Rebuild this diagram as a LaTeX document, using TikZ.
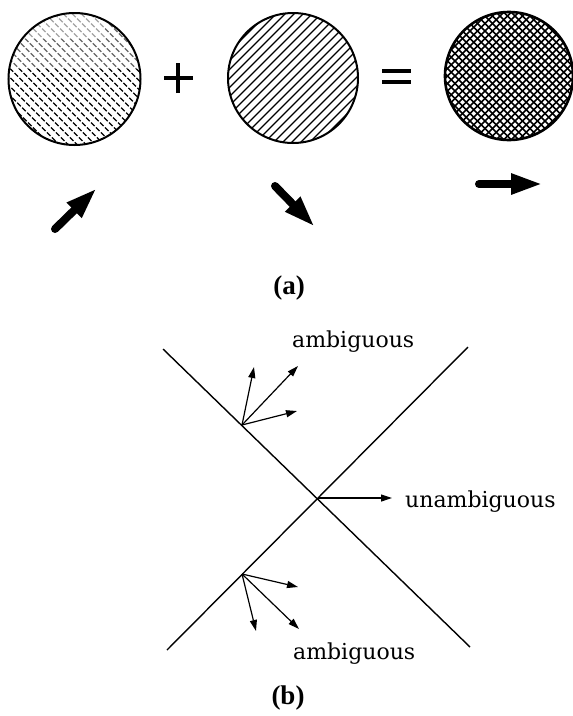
\documentclass[tikz,border=0pt]{standalone}
\usepackage{fontspec}
\newfontfamily\lblfont{DejaVu Serif}
\newfontfamily\capfont{Liberation Serif}
\usetikzlibrary{arrows.meta}
\tikzset{
  disc/.style={circle, draw=black, line width=2pt, minimum size=#1, inner sep=0pt},
  blockarrow/.style={line width=8pt, line cap=round, -{Triangle[length=32pt,width=19pt]}},
  thinarrow/.style={line width=1.2pt, -{Triangle[length=11pt,width=7pt]}},
  xline/.style={line width=1.4pt},
  sym/.style={line width=4pt},
  lbl/.style={font=\lblfont\fontsize{22}{26}\selectfont, inner sep=0pt},
  figcap/.style={font=\capfont\fontsize{27}{31}\selectfont\bfseries, inner sep=0pt},
}
\begin{document}
\begin{tikzpicture}[x=1pt,y=-1pt]
\useasboundingbox (0,0) rectangle (573,716);

% ---------- (a) ----------
\node[disc=132pt, path picture={
  \begin{scope}[shift={(path picture bounding box.center)}]
    \foreach \s in {-189,-180,...,189}
      \draw[line width=1.3pt, dash pattern=on 5pt off 2pt] (\s-100,-100) -- (\s+100,100);
    \fill[white, opacity=0.4] (-80,-80) rectangle (80,-10);
    \fill[white, opacity=0.4] (-80,-80) rectangle (30,-40);
  \end{scope}}] (c1) at (74.5,79) {};

\node[disc=130pt, path picture={
  \begin{scope}[shift={(path picture bounding box.center)}]
    \foreach \s in {-189,-180,...,189}
      \draw[line width=1.4pt] (\s-100,100) -- (\s+100,-100);
  \end{scope}}] (c2) at (293,78) {};

\node[disc=128pt, line width=2.6pt, path picture={
  \begin{scope}[shift={(path picture bounding box.center)}]
    \foreach \s in {-189,-181.5,...,189} {
      \draw[line width=1.6pt] (\s-100,100) -- (\s+100,-100);
      \draw[line width=1.6pt] (\s-100,-100) -- (\s+100,100);
    }
  \end{scope}}] (c3) at (509,76) {};

% plus and equals
\coordinate (plus) at (178,78);
\draw[sym] ([xshift=-14pt]plus) -- ([xshift=15pt]plus);
\draw[sym] ([yshift=-15pt]plus) -- ([yshift=15pt]plus);
\coordinate (eq) at (397,76);
\draw[sym] ([xshift=-15pt,yshift=-5.5pt]eq) -- ([xshift=14pt,yshift=-5.5pt]eq);
\draw[sym] ([xshift=-15pt,yshift=5.5pt]eq) -- ([xshift=14pt,yshift=5.5pt]eq);

% block arrows
\coordinate (a1t) at (55,229);
\coordinate (a1h) at (97,188);
\coordinate (a2t) at (275,186);
\coordinate (a2h) at (315,227);
\coordinate (a3t) at (479,184);
\coordinate (a3h) at (543,184);
\draw[blockarrow] (a1t) -- (a1h);
\draw[blockarrow] (a2t) -- (a2h);
\draw[blockarrow] (a3t) -- (a3h);

\node[figcap, anchor=base] (capa) at (289,294) {(a)};

% ---------- (b) ----------
\coordinate (l1a) at (163,349);
\coordinate (l1b) at (470,647);
\coordinate (l2a) at (468,347);
\coordinate (l2b) at (167,650);
\coordinate (x) at (318,498);
\draw[xline] (l1a) -- (l1b);
\draw[xline] (l2a) -- (l2b);

% top ambiguous fan
\coordinate (t0) at (242,425);
\coordinate (t1) at (254,367);
\coordinate (t2) at (298,366);
\coordinate (t3) at (297,411);
\draw[thinarrow] (t0) -- (t1);
\draw[thinarrow] (t0) -- (t2);
\draw[thinarrow] (t0) -- (t3);

% bottom ambiguous fan
\coordinate (b0) at (242,574);
\coordinate (b1) at (298,587);
\coordinate (b2) at (256,631);
\coordinate (b3) at (299,629);
\draw[thinarrow] (b0) -- (b1);
\draw[thinarrow] (b0) -- (b2);
\draw[thinarrow] (b0) -- (b3);

% unambiguous
\coordinate (u1) at (392,498);
\draw[thinarrow] (x) -- (u1);

\node[lbl, anchor=base west] (amb1) at (292,347) {ambiguous};
\node[lbl, anchor=base west] (unamb) at (405,507) {unambiguous};
\node[lbl, anchor=base west] (amb2) at (293,659) {ambiguous};

\node[figcap, anchor=base] (capb) at (288,704) {(b)};
\end{tikzpicture}
\end{document}
